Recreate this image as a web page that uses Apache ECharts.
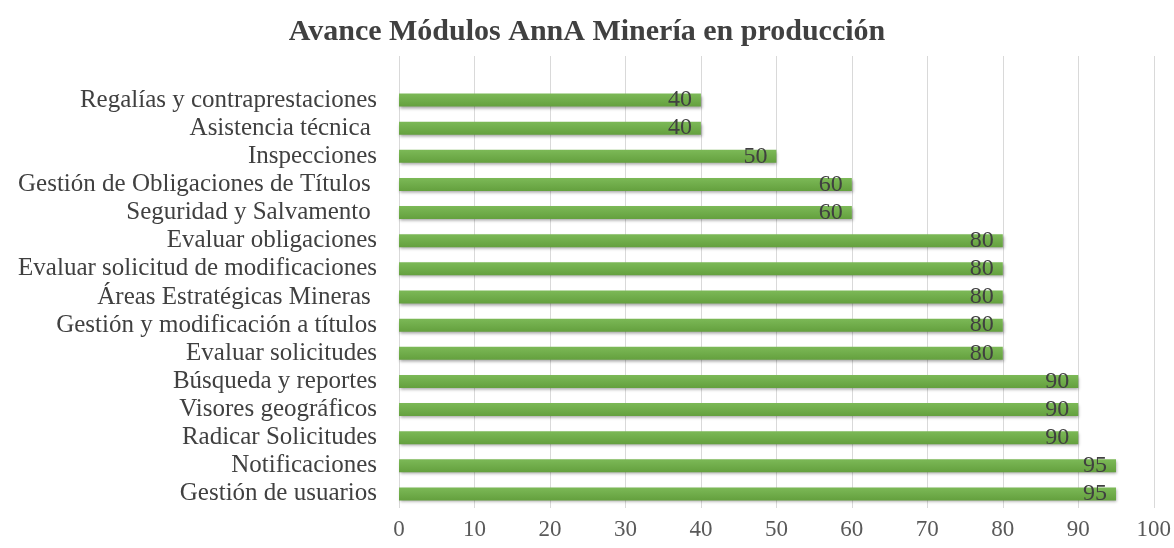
<!DOCTYPE html>
<html><head><meta charset="utf-8">
<script src="https://cdn.jsdelivr.net/npm/echarts@6/dist/echarts.min.js"></script>
<style>html,body{margin:0;padding:0;background:#fff}#c{width:1174px;height:548px}</style>
</head><body><div id="c"></div>
<script>
const categories = ["Gestión de usuarios","Notificaciones","Radicar Solicitudes","Visores geográficos","Búsqueda y reportes","Evaluar solicitudes","Gestión y modificación a títulos","Áreas Estratégicas Mineras ","Evaluar solicitud de modificaciones","Evaluar obligaciones","Seguridad y Salvamento ","Gestión de Obligaciones de Títulos ","Inspecciones","Asistencia técnica ","Regalías y contraprestaciones"];
const values = [95,95,90,90,90,80,80,80,80,80,60,60,50,40,40];
const xTicks = {min:0,max:100,interval:10};
const titleText = "Avance Módulos AnnA Minería en producción";
const serif = "'Liberation Serif','Times New Roman',serif";
const chart = echarts.init(document.getElementById('c'));
chart.setOption({
  animation:false,
  title:{text:titleText,left:'center',top:12,textStyle:{fontFamily:serif,fontWeight:'bold',fontSize:30,color:'#404040'}},
  grid:[{left:399,right:20,top:86,bottom:40},{left:399,right:20,top:56,height:30}],
  xAxis:[{gridIndex:0,type:'value',min:xTicks.min,max:xTicks.max,interval:xTicks.interval,
    axisLine:{show:false},axisTick:{show:false},
    axisLabel:{fontFamily:serif,fontSize:23,color:'#595959',margin:10},
    splitLine:{lineStyle:{color:'#d9d9d9'}}},
    {gridIndex:1,type:'value',min:xTicks.min,max:xTicks.max,interval:xTicks.interval,
    axisLine:{show:false},axisTick:{show:false},axisLabel:{show:false},
    splitLine:{lineStyle:{color:'#d9d9d9'}}}],
  yAxis:[{gridIndex:0,type:'category',data:categories,axisLine:{show:false},axisTick:{show:false},
    axisLabel:{interval:0,fontFamily:serif,fontSize:25,color:'#404040',margin:22}},
    {gridIndex:1,type:'category',data:[],show:false}],
  series:[{type:'bar',data:values,barWidth:13,
    itemStyle:{color:new echarts.graphic.LinearGradient(0,0,0,1,[{offset:0,color:'#7cb957'},{offset:1,color:'#64a03e'}]),shadowColor:'rgba(0,0,0,0.35)',shadowBlur:3,shadowOffsetX:1,shadowOffsetY:2},
    label:{show:true,position:'insideRight',offset:[-4,0],fontFamily:serif,fontSize:24,color:'#404040'}}]
});
</script></body></html>
